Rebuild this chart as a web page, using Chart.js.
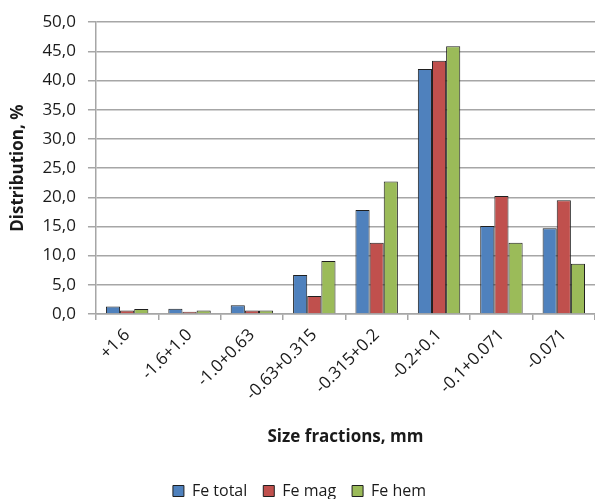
<!DOCTYPE html>
<html lang="en">
<head>
  <meta charset="UTF-8">
  <title>Fe distribution by size fractions</title>
  <script src="https://cdn.jsdelivr.net/npm/chart.js"></script>
  <style>
    * { margin: 0; padding: 0; box-sizing: border-box; }
    body { background: #fff; width: 595px; height: 499px; overflow: hidden; }
    .chart-box { position: relative; width: 595px; height: 499px; }
  </style>
</head>
<body>
  <div class="chart-box">
    <canvas id="feChart"></canvas>
  </div>

<script>
  // size fractions, mm
  const fractions = ['+1.6', '-1.6+1.0', '-1.0+0.63', '-0.63+0.315', '-0.315+0.2', '-0.2+0.1', '-0.1+0.071', '-0.071'];

  // distribution, %
  const feTotal = [1.3, 0.9, 1.5, 6.7, 17.8, 42.0, 15.1, 14.7];
  const feMag   = [0.6, 0.4, 0.6, 3.1, 12.2, 43.4, 20.2, 19.5];
  const feHem   = [0.85, 0.6, 0.6, 9.1, 22.7, 45.9, 12.2, 8.6];

  const font = '"Open Sans", Lato, sans-serif';
  const txt = '#1a1a1a';
  const grid = '#a6a6a6';

  function series(label, data, color) {
    return {
      label: label,
      data: data,
      backgroundColor: color,
      borderColor: '#1f1f1f',
      borderWidth: 1,
      borderSkipped: 'bottom',
      barPercentage: 1.0,
      categoryPercentage: 0.68
    };
  }

  const ctx = document.getElementById('feChart').getContext('2d');
  new Chart(ctx, {
    type: 'bar',
    data: {
      labels: fractions,
      datasets: [
        series('Fe total', feTotal, '#4f81bd'),
        series('Fe mag', feMag, '#c0504d'),
        series('Fe hem', feHem, '#9bbb59')
      ]
    },
    options: {
      responsive: true,
      maintainAspectRatio: false,
      animation: false,
      layout: { padding: { top: 7, right: 0, left: 4, bottom: -10 } },
      plugins: {
        tooltip: { enabled: false },
        legend: {
          position: 'bottom',
          labels: {
            color: txt,
            font: { family: font, size: 16 },
            boxWidth: 11,
            boxHeight: 11,
            padding: 16
          }
        }
      },
      scales: {
        x: {
          grid: { display: true, drawOnChartArea: false, color: grid, lineWidth: 1.5, tickLength: 6 },
          border: { color: grid, width: 1.5 },
          ticks: {
            color: txt,
            font: { family: font, size: 17 },
            minRotation: 45,
            maxRotation: 45,
            padding: 5
          },
          title: {
            display: true,
            text: 'Size fractions, mm',
            color: txt,
            font: { family: font, size: 17, weight: 'bold' },
            padding: { top: 17, bottom: 20 }
          }
        },
        y: {
          min: 0,
          max: 50,
          grid: { color: grid, lineWidth: 1.5, tickLength: 8 },
          border: { color: grid, width: 1.5 },
          ticks: {
            stepSize: 5,
            color: txt,
            font: { family: font, size: 17 },
            padding: 12,
            callback: v => v.toFixed(1).replace('.', ',')
          },
          title: {
            display: true,
            text: 'Distribution, %',
            color: txt,
            font: { family: font, size: 17, weight: 'bold' },
            padding: { bottom: 2 }
          }
        }
      }
    }
  });
</script>
</body>
</html>
